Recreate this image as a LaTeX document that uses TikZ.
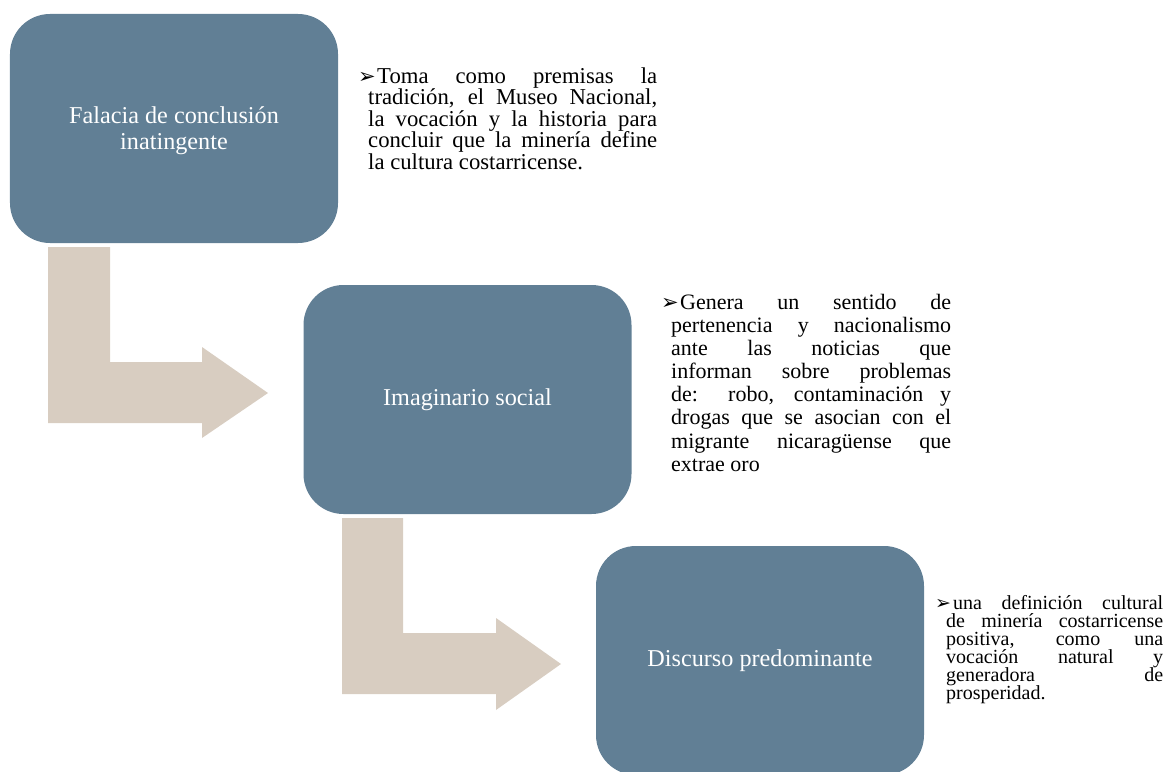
\documentclass[tikz,border=0pt]{standalone}
\usepackage{fontspec}
\setmainfont{Liberation Serif}
\newfontfamily\symfont{DejaVu Sans}
\definecolor{boxblue}{HTML}{617F95}
\definecolor{arrowbeige}{HTML}{D8CDC1}
% #1 hang, #2 box width, #3 bullet size
\newcommand{\notebul}[3]{\hspace*{-#1}\makebox[#2][l]{\symfont\fontsize{#3}{#3}\selectfont ➢}}
\begin{document}
\begin{tikzpicture}[x=1bp,y=-1bp,
  stepbox/.style={fill=boxblue, rounded corners=40bp, minimum width=328bp,
    minimum height=229bp, text=white, align=center, inner sep=0pt,
    font=\fontsize{24.2bp}{26bp}\selectfont},
  bendarrow/.style={fill=arrowbeige, draw=none},
  note/.style={anchor=north west, inner sep=0pt, align=justify}]
\useasboundingbox (0,0) rectangle (1166,772);
% bent arrows
\draw[bendarrow] (48,247) -- (110,247) -- (110,362) -- (202,362) -- (202,347)
  -- (268,393) -- (202,438) -- (202,423) -- (48,423) -- cycle;
\draw[bendarrow] (342,518) -- (403,518) -- (403,633) -- (496,633) -- (496,618)
  -- (561,664) -- (496,710) -- (496,694) -- (342,694) -- cycle;
% boxes
\node[stepbox] (b1) at (174,128.5) {\rule{0pt}{22bp}Falacia de conclusión\\inatingente};
\node[stepbox] (b2) at (467.5,399.5) {Imaginario social};
\node[stepbox] (b3) at (760,660.5) {Discurso predominante};
% notes
\node[note, text width=289bp, font=\fontsize{22.7bp}{21.5bp}\selectfont] (n1) at (368,67.5)
  {\lineskiplimit=-100bp\notebul{10bp}{19bp}{21bp}Toma como premisas la\linebreak
   tradición, el Museo Nacional,\linebreak
   la vocación y la historia para\linebreak
   concluir que la minería define\linebreak
   la cultura costarricense.\par};
\node[note, text width=280bp, font=\fontsize{22bp}{23.1bp}\selectfont] (n2) at (671,294)
  {\lineskiplimit=-100bp\notebul{10bp}{19bp}{21bp}Genera un sentido de\linebreak
   pertenencia y nacionalismo\linebreak
   ante las noticias que\linebreak
   informan sobre problemas\linebreak
   de: robo, contaminación y\linebreak
   drogas que se asocian con el\linebreak
   migrante nicaragüense que\linebreak
   extrae oro\par};
\node[note, text width=217bp, font=\fontsize{20bp}{18bp}\selectfont] (n3) at (946,595)
  {\lineskiplimit=-100bp\notebul{11bp}{18bp}{19bp}una definición cultural\linebreak
   de minería costarricense\linebreak
   positiva, como una\linebreak
   vocación natural y\linebreak
   generadora de\linebreak
   prosperidad.\par};
\end{tikzpicture}
\end{document}
